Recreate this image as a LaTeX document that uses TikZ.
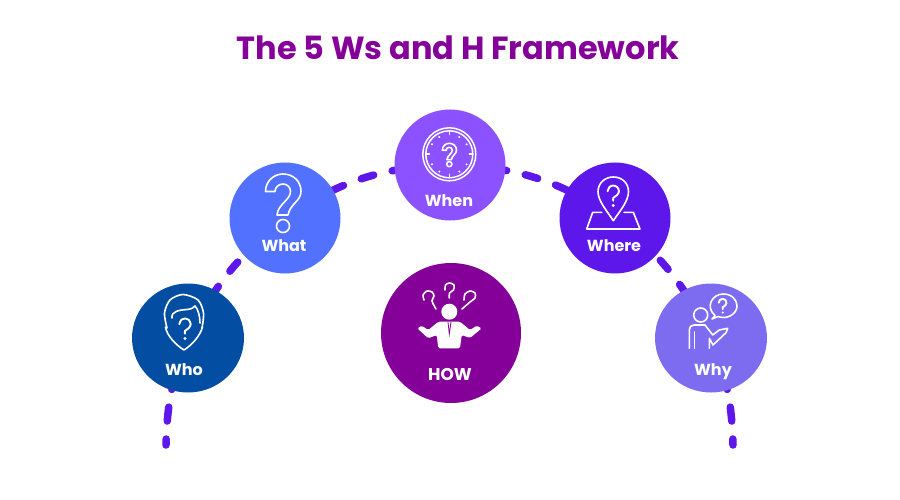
\documentclass[tikz,border=0pt]{standalone}
\usepackage{fontspec}
\setmainfont{Poppins}
\usetikzlibrary{backgrounds,shapes.geometric}

\definecolor{whocol}{HTML}{034EA2}
\definecolor{whatcol}{HTML}{5271FF}
\definecolor{whencol}{HTML}{8C52FF}
\definecolor{wherecol}{HTML}{5E17EB}
\definecolor{whycol}{HTML}{7D6CEF}
\definecolor{howcol}{HTML}{850099}

\tikzset{
	ball/.style={ellipse,fill=#1,minimum width=111pt,minimum height=111pt,inner sep=0pt},
	lab/.style={text=white,font=\bfseries\fontsize{16}{18}\selectfont,inner sep=0pt,anchor=base},
	icon/.style={draw=white,line width=1.6pt,line join=round,line cap=round},
	link/.style={draw=wherecol,line width=7.5pt,line cap=round},
	qline/.pic={
		\draw[icon,line width=1.9pt] plot[smooth] coordinates {(-6,-5) (-4,-9.5) (0,-11) (4,-9.5) (6,-5) (4,-1) (0,2) (0,5)};
		\fill[white] (0,10) circle[radius=1.7];
	},
	qopen/.pic={
		\draw[icon] (-17.5,-12.5) .. controls (-17.5,-23) and (-9,-30) .. (0,-30) .. controls (10,-30) and (18,-23) .. (18,-12.5) .. controls (18,-3) and (7,0) .. (5,11) -- (-6,11) .. controls (-5,0) and (7.5,-4) .. (7.5,-12.5) .. controls (7.5,-17) and (4,-20) .. (0,-20) .. controls (-4,-20) and (-8,-17) .. (-8,-12.5) -- cycle;
		\draw[icon] (0,22) circle[radius=6.5];
	}
}

\begin{document}
\begin{tikzpicture}[x=1pt,y=-1pt]
	\useasboundingbox (0,0) rectangle (900,500);

	\node[text=howcol,font=\bfseries\fontsize{32}{36}\selectfont,inner sep=0pt,anchor=base](title) at (458,60) {The 5 Ws and H Framework};

	\node[ball=whocol,minimum width=112pt,minimum height=109pt](who) at (188,338) {};
	\node[ball=whatcol](what) at (285,218) {};
	\node[ball=whencol](when) at (450,165) {};
	\node[ball=wherecol](where) at (615,218) {};
	\node[ball=whycol,minimum width=112pt,minimum height=109pt](why) at (711,338) {};
	\node[ball=howcol,minimum width=140pt,minimum height=140pt](how) at (451,333) {};

	\coordinate (whoend) at (166,445);
	\coordinate (whyend) at (733,445);

	\begin{pgfonlayer}{background}
		\draw[link,dash pattern=on 14pt off 18pt,dash phase=8pt] (whoend) to[bend left=10] (who.center);
		\draw[link,dash pattern=on 12pt off 19pt,dash phase=14pt] (who.center) to[bend left=12] (what.center);
		\draw[link,dash pattern=on 13pt off 19pt,dash phase=10pt] (what.center) to[bend left=16] (when.center);
		\draw[link,dash pattern=on 13pt off 19pt,dash phase=20pt] (when.center) to[bend left=16] (where.center);
		\draw[link,dash pattern=on 12pt off 19pt,dash phase=0pt] (where.center) to[bend left=12] (why.center);
		\draw[link,dash pattern=on 14pt off 18pt,dash phase=8pt] (whyend) to[bend right=10] (why.center);
	\end{pgfonlayer}

	\node[lab](wholab) at (184,375) {Who};
	\node[lab](whatlab) at (284,251) {What};
	\node[lab](whenlab) at (449,206) {When};
	\node[lab](wherelab) at (614,251) {Where};
	\node[lab](whylab) at (713,375) {Why};
	\node[lab,font=\bfseries\fontsize{17}{19}\selectfont](howlab) at (450,380) {HOW};

	\draw[icon] plot[smooth] coordinates {(167,328) (164.5,313) (170,300) (183,294.5) (198,300) (203.5,313) (202,328)};
	\draw[icon] (165.5,327) .. controls (167,336) and (176,345) .. (184,350) .. controls (192,345) and (200,336) .. (202.5,327);
	\draw[icon] (172,318) .. controls (171,311) and (180,310) .. (187,309.5) .. controls (191,309) and (194,308) .. (195,306) .. controls (198,309) and (200,316) .. (200,323);
	\pic[scale=.95] at (185,329) {qline};

	\pic at (283,204) {qopen};

	\begin{scope}[shift={(449.3,154.3)}]
		\node[circle,draw=white,line width=1.5pt,minimum size=53pt,inner sep=0pt](clockrim) at (0,0) {};
		\node[circle,draw=white,line width=1.5pt,minimum size=47pt,inner sep=0pt](clockin) at (0,0) {};
		\foreach \a in {0,90,180,270} \draw[icon] (\a:23.5) -- (\a:20);
		\foreach \a in {30,60,120,150,210,240,300,330} \fill[white] (\a:20) circle[radius=1.1];
		\pic[scale=.4] at (0,1) {qopen};
	\end{scope}

	\draw[icon] (613.3,220.7) .. controls (607,211) and (598,201) .. (598,191.7) .. controls (598,183) and (605,177) .. (613.3,177) .. controls (622,177) and (628.5,183) .. (628.5,191.7) .. controls (628.5,201) and (620,211) .. (613.3,220.7);
	\draw[icon] (601.7,212.3) -- (592.7,212.3) -- (586.7,229) -- (640,229) -- (633.3,212.3) -- (624,212.3);
	\pic[scale=.95] at (613.3,196) {qline};

	\draw[icon] (700.7,315) circle[radius=7];
	\draw[icon] (712,319) .. controls (714,317) and (715,316) .. (715,315.5) .. controls (705,307) and (712,294) .. (723.3,294) .. controls (732,294) and (737,300) .. (737,306) .. controls (737,314) and (727,320) .. (718,316.5) -- cycle;
	\pic[scale=.65] at (722.7,306) {qline};
	\draw[icon] (689.3,348.3) -- (689.3,330) .. controls (689.3,327) and (691,325) .. (694,325) -- (705,325) -- (712.7,335) -- (719.3,330) -- (727.7,328.3) -- (726,332.7) -- (713,345) -- (709.3,338.3) -- (709.3,348.3);
	\draw[icon] (694.5,332) -- (694.5,348.3);

	\fill[white] (449.3,311.7) circle[radius=8];
	\fill[white,rounded corners=1.5pt] (438.3,321.7) -- (460,321.7) -- (470,330) -- (476.7,325.7) -- (481.7,328.3) -- (470,338) -- (461.7,335) -- (460,348.3) -- (438.3,348.3) -- (436.7,335) -- (428.3,338.3) -- (417.3,328.3) -- (421.7,325.7) -- (428.3,330) -- cycle;
	\draw[howcol,line width=.8pt] (448,322) -- (449.3,334) -- (451,322);
	\draw[icon] plot[smooth] coordinates {(445,290) (445.5,285) (449.5,283) (454,285) (453.5,290) (449.5,293) (449.3,298)};
	\draw[icon] plot[smooth] coordinates {(424,300) (423,295) (427,291) (432,292) (434,296) (432,301) (436,309)};
	\draw[icon] plot[smooth] coordinates {(464,300) (465,294) (470,291) (475,293) (475,298) (470,302) (462,309)};
\end{tikzpicture}
\end{document}
